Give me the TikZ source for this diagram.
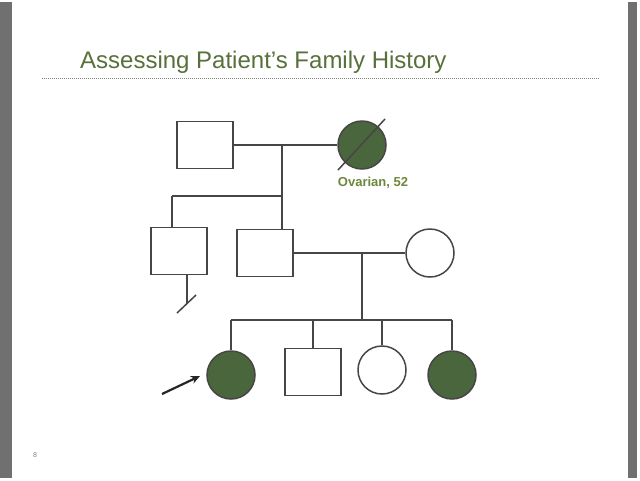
\documentclass[tikz,border=0pt]{standalone}
\usepackage{fontspec}
\setmainfont{Liberation Sans}
\usetikzlibrary{arrows.meta}
\definecolor{titlegreen}{RGB}{88,112,58}
\definecolor{labelgreen}{RGB}{110,135,60}
\definecolor{fillgreen}{RGB}{74,102,60}
\definecolor{linegray}{RGB}{70,70,70}
\definecolor{bargray}{RGB}{112,112,112}
\tikzset{
  pline/.style={draw=linegray,line width=1.5pt},
  male/.style={draw=linegray,line width=1.5pt,fill=white,minimum width=56pt,minimum height=47pt,inner sep=0pt,rectangle},
  female/.style={draw=linegray,line width=1.5pt,fill=white,circle,minimum size=48pt,inner sep=0pt},
  affected/.style={fill=fillgreen},
}
\begin{document}
\begin{tikzpicture}[x=1pt,y=-1pt]
\useasboundingbox (0,0) rectangle (640,480);
\fill[white] (0,0) rectangle (640,480);
\fill[bargray] (0,2) rectangle (12,478);
\fill[bargray] (628,2) rectangle (637,478);
\node[anchor=base west,text=titlegreen,font=\fontsize{24}{28}\selectfont,inner sep=0pt] (title) at (80,68) {Assessing Patient’s Family History};
\coordinate (dl) at (42,78);
\coordinate (dr) at (600,78);
\draw[gray,line width=1pt,dash pattern=on 1pt off 1pt] (dl) -- (dr);
% generation I
\node[male] (gf) at (205,145) {};
\node[female,affected] (gm) at (362,145) {};
\coordinate (s1a) at (338,170);
\coordinate (s1b) at (385,119);
\draw[pline] (s1a) -- (s1b);
\node[text=labelgreen,font=\fontsize{13}{15}\selectfont\bfseries] (lab) at (373,183) {Ovarian, 52};
\coordinate (m1) at (282,145);
\coordinate (c1) at (282,196);
\coordinate (c1l) at (172,196);
\draw[pline] (gf) -- (gm);
\draw[pline] (m1) -- (c1);
% generation II
\node[male] (u) at (179,251) {};
\node[male] (fa) at (265,253) {};
\node[female] (mo) at (430,253) {};
\coordinate (ut) at (172,227);
\coordinate (ft) at (282,229);
\draw[pline] (c1l) -- (c1) -- (ft);
\draw[pline] (c1l) -- (ut);
\coordinate (ub) at (187,275);
\coordinate (ue) at (187,304);
\coordinate (us1) at (177,313);
\coordinate (us2) at (196,295);
\draw[pline] (ub) -- (ue);
\draw[pline] (us1) -- (us2);
\draw[pline] (fa) -- (mo);
\coordinate (m2) at (362,253);
\coordinate (c2) at (362,320);
\draw[pline] (m2) -- (c2);
% generation III
\coordinate (c2l) at (231,320);
\coordinate (c2r) at (452,320);
\draw[pline] (c2l) -- (c2r);
\node[female,affected] (p) at (231,375) {};
\node[male] (b) at (313,372) {};
\node[female] (s) at (382,370) {};
\node[female,affected] (s2) at (452,375) {};
\draw[pline] (c2l) -- (p);
\coordinate (bt) at (313,320);
\draw[pline] (bt) -- (b);
\coordinate (st) at (382,320);
\draw[pline] (st) -- (s);
\draw[pline] (c2r) -- (s2);
\coordinate (a1) at (162,394);
\coordinate (a2) at (200,376);
\draw[line width=2.2pt,black!85,-{Stealth[length=9pt,width=8pt]}] (a1) -- (a2);
\node[text=gray,font=\fontsize{7}{8}\selectfont] (pg) at (35,455) {8};
\end{tikzpicture}
\end{document}
